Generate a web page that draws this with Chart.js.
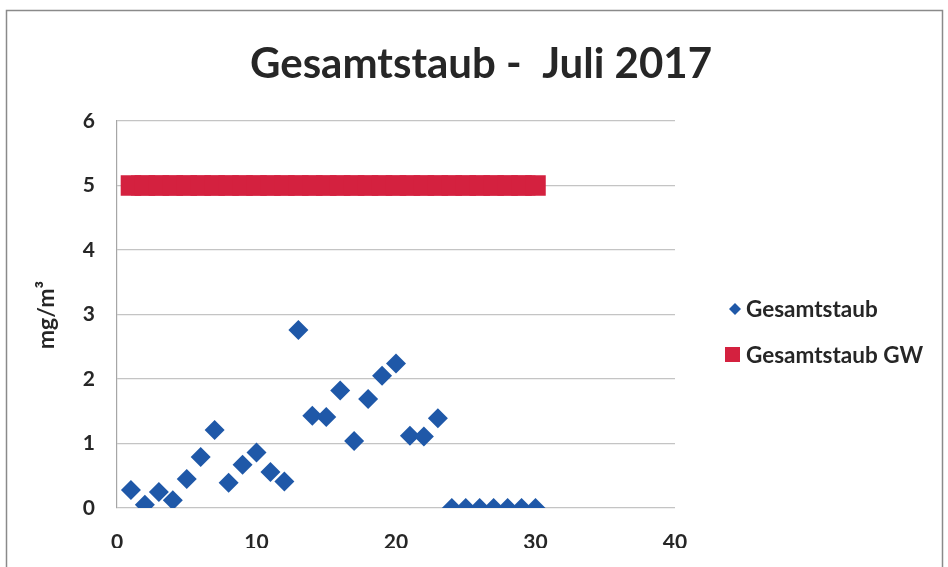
<!DOCTYPE html>
<html><head><meta charset="utf-8">
<script src="https://cdn.jsdelivr.net/npm/chart.js@4"></script>
<style>html,body{margin:0;padding:0;background:#fff}#wrap{width:948px;height:567px}</style>
</head><body><div id="wrap"><canvas id="c" width="948" height="567"></canvas></div>
<script>
const chartTitle = 'Gesamtstaub -  Juli 2017';
const yAxisTitle = 'mg/m³';
const seriesNames = ['Gesamtstaub', 'Gesamtstaub GW'];
const days = [1,2,3,4,5,6,7,8,9,10,11,12,13,14,15,16,17,18,19,20,21,22,23,24,25,26,27,28,29,30];
const gesamtstaub = [0.28,0.05,0.25,0.12,0.45,0.79,1.21,0.39,0.67,0.86,0.56,0.41,2.76,1.43,1.41,1.82,1.04,1.69,2.05,2.24,1.12,1.11,1.39,0,0,0,0,0,0,0];
const grenzwert = [5,5,5,5,5,5,5,5,5,5,5,5,5,5,5,5,5,5,5,5,5,5,5,5,5,5,5,5,5,5];
const xTicks = [0,10,20,30,40];
const yTicks = [0,1,2,3,4,5,6];

const BLUE = '#1f58a8';
const RED = '#d4213f';
const FONT = 'Lato, "Open Sans", sans-serif';

const decor = {
  id: 'decor',
  beforeDraw(chart) {
    const ctx = chart.ctx;
    ctx.save();
    ctx.fillStyle = '#fff';
    ctx.fillRect(0, 0, chart.width, chart.height);
    ctx.strokeStyle = '#8a8a8a';
    ctx.lineWidth = 1.5;
    ctx.strokeRect(6.5, 10.5, 936, 600);
    ctx.restore();
  },
  afterDraw(chart) {
    const ctx = chart.ctx;
    ctx.save();
    ctx.fillStyle = '#262626';
    ctx.textAlign = 'center';
    ctx.textBaseline = 'alphabetic';
    ctx.font = 'bold 42px ' + FONT;
    ctx.fillText(chartTitle, 481, 78);
    // y title
    ctx.save();
    ctx.translate(47, 315);
    ctx.rotate(-Math.PI / 2);
    ctx.font = 'bold 23px ' + FONT;
    ctx.textBaseline = 'middle';
    ctx.fillText(yAxisTitle, 0, 0);
    ctx.restore();
    // legend
    ctx.font = 'bold 22.5px ' + FONT;
    ctx.textAlign = 'left';
    ctx.textBaseline = 'middle';
    ctx.fillStyle = BLUE;
    ctx.beginPath();
    ctx.moveTo(735, 303); ctx.lineTo(741, 309); ctx.lineTo(735, 315); ctx.lineTo(729, 309); ctx.closePath();
    ctx.fill();
    ctx.fillStyle = RED;
    ctx.fillRect(725, 347, 15, 15);
    ctx.fillStyle = '#262626';
    ctx.fillText(seriesNames[0], 746, 310);
    ctx.fillText(seriesNames[1], 746, 356);
    ctx.restore();
  }
};

new Chart(document.getElementById('c'), {
  type: 'scatter',
  data: {
    datasets: [
      {
        label: seriesNames[1],
        data: days.map((d, i) => ({x: d, y: grenzwert[i]})),
        showLine: true,
        borderColor: RED,
        borderWidth: 20,
        backgroundColor: RED,
        pointStyle: 'rect',
        pointRadius: 14.5,
        pointBorderWidth: 0,
        pointHoverRadius: 14.5,
        order: 2
      },
      {
        label: seriesNames[0],
        data: days.map((d, i) => ({x: d, y: gesamtstaub[i]})),
        backgroundColor: BLUE,
        borderColor: BLUE,
        pointStyle: 'rectRot',
        pointRadius: 10,
        pointBorderWidth: 0,
        pointHoverRadius: 10,
        order: 1
      }
    ]
  },
  options: {
    responsive: false,
    animation: false,
    devicePixelRatio: 1,
    layout: {padding: {left: 57, right: 273, top: 121, bottom: 19}},
    plugins: {legend: {display: false}, title: {display: false}, tooltip: {enabled: false}},
    scales: {
      x: {
        type: 'linear', min: 0, max: 40,
        afterBuildTicks: s => { s.ticks = xTicks.map(v => ({value: v})); },
        afterFit: s => { s.height = 40; },
        grid: {display: false},
        border: {display: false},
        ticks: {font: {family: FONT, size: 21, weight: 'bold'}, color: '#262626', padding: 14, maxRotation: 0}
      },
      y: {
        min: 0, max: 6,
        afterBuildTicks: s => { s.ticks = yTicks.map(v => ({value: v})); },
        afterFit: s => { s.width = 60; },
        grid: {color: '#c4c4c4', lineWidth: 1.2, drawTicks: false},
        border: {color: '#a6a6a6', width: 1.2},
        ticks: {font: {family: FONT, size: 21, weight: 'bold'}, color: '#262626', padding: 22}
      }
    }
  },
  plugins: [decor]
});
</script>
</body></html>
